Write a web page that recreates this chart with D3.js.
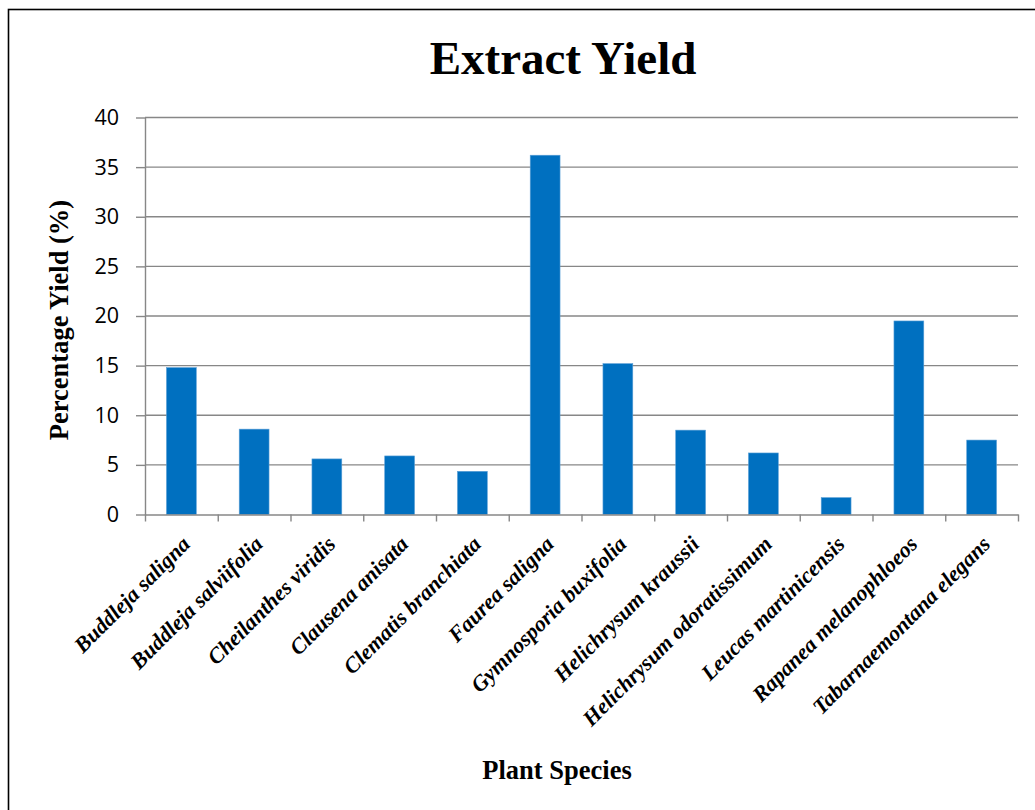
<!DOCTYPE html>
<html>
<head>
<meta charset="utf-8">
<script src="https://cdn.jsdelivr.net/npm/d3@7"></script>
<style>
  html, body { margin: 0; padding: 0; background: #fff; }
  svg { display: block; }
</style>
</head>
<body>
<svg id="chart" width="1035" height="810"></svg>
<script>
// Plant species and their extract yield (%)
const species = [
  "Buddleja saligna",
  "Buddleja salviifolia",
  "Cheilanthes viridis",
  "Clausena anisata",
  "Clematis branchiata",
  "Faurea saligna",
  "Gymnosporia buxifolia",
  "Helichrysum kraussii",
  "Helichrysum odoratissimum",
  "Leucas martinicensis",
  "Rapanea melanophloeos",
  "Tabarnaemontana elegans"
];
const yieldPct = [14.8, 8.6, 5.6, 5.9, 4.35, 36.2, 15.2, 8.5, 6.2, 1.7, 19.5, 7.5];
const yTicks = [0, 5, 10, 15, 20, 25, 30, 35, 40];

const svg = d3.select("#chart");
const plot = { left: 145, right: 1018, top: 117.5, bottom: 514.5 };
const gridColor = "#878787";
const serif = "'Liberation Serif', 'Times New Roman', serif";

// outer frame
svg.append("rect")
  .attr("x", 8.5).attr("y", 9.5)
  .attr("width", 1100).attr("height", 900)
  .attr("fill", "none").attr("stroke", "#000").attr("stroke-width", 1.6);

const x = d3.scaleBand().domain(species).range([plot.left, plot.right]).padding(0);
const y = d3.scaleLinear().domain([0, 40]).range([plot.bottom, plot.top]);

// horizontal gridlines
svg.append("g").selectAll("line")
  .data(yTicks.filter(t => t > 0))
  .join("line")
  .attr("x1", plot.left).attr("x2", plot.right)
  .attr("y1", d => y(d)).attr("y2", d => y(d))
  .attr("stroke", gridColor).attr("stroke-width", 1.4);

// bars
const barW = x.bandwidth() * 0.41;
svg.append("g").selectAll("rect")
  .data(species.map((s, i) => ({ s, v: yieldPct[i] })))
  .join("rect")
  .attr("x", d => x(d.s) + (x.bandwidth() - barW) / 2)
  .attr("y", d => y(d.v))
  .attr("width", barW)
  .attr("height", d => y(0) - y(d.v))
  .attr("fill", "#0070C0")
  .attr("stroke", "#5a9fd6")
  .attr("stroke-width", 0.6);

// y axis
const yAxis = svg.append("g")
  .attr("transform", `translate(${plot.left},0)`)
  .call(d3.axisLeft(y).tickValues(yTicks).tickSize(9).tickPadding(17).tickSizeOuter(0));
yAxis.select(".domain").attr("stroke", gridColor).attr("stroke-width", 1.4);
yAxis.selectAll(".tick line").attr("stroke", gridColor).attr("stroke-width", 1.4);
yAxis.selectAll(".tick text")
  .attr("font-family", "'Open Sans', 'Liberation Sans', sans-serif")
  .attr("font-size", 21.5).attr("fill", "#000");

// x axis with tick marks between categories
const edges = d3.scaleLinear().domain([0, species.length]).range([plot.left, plot.right]);
const xAxis = svg.append("g")
  .attr("transform", `translate(0,${plot.bottom})`)
  .call(d3.axisBottom(edges).tickValues(d3.range(species.length + 1)).tickSize(7).tickFormat("").tickSizeOuter(0));
xAxis.select(".domain").attr("stroke", gridColor).attr("stroke-width", 1.4);
xAxis.selectAll(".tick line").attr("stroke", gridColor).attr("stroke-width", 1.4);

// category labels, rotated
svg.append("g").selectAll("text")
  .data(species)
  .join("text")
  .attr("transform", d => `translate(${x(d) + x.bandwidth() / 2 + 10},${plot.bottom + 31}) rotate(-45)`)
  .attr("text-anchor", "end")
  .attr("font-family", serif)
  .attr("font-weight", "bold")
  .attr("font-style", "italic")
  .attr("font-size", 22)
  .attr("fill", "#000")
  .text(d => d);

// title
svg.append("text")
  .attr("x", 563).attr("y", 74)
  .attr("text-anchor", "middle")
  .attr("font-family", serif).attr("font-weight", "bold").attr("font-size", 47)
  .text("Extract Yield");

// axis titles
svg.append("text")
  .attr("transform", "translate(68,320) rotate(-90)")
  .attr("text-anchor", "middle")
  .attr("font-family", serif).attr("font-weight", "bold").attr("font-size", 26.5)
  .text("Percentage Yield (%)");

svg.append("text")
  .attr("x", 557).attr("y", 779)
  .attr("text-anchor", "middle")
  .attr("font-family", serif).attr("font-weight", "bold").attr("font-size", 26.5)
  .text("Plant Species");
</script>
</body>
</html>
